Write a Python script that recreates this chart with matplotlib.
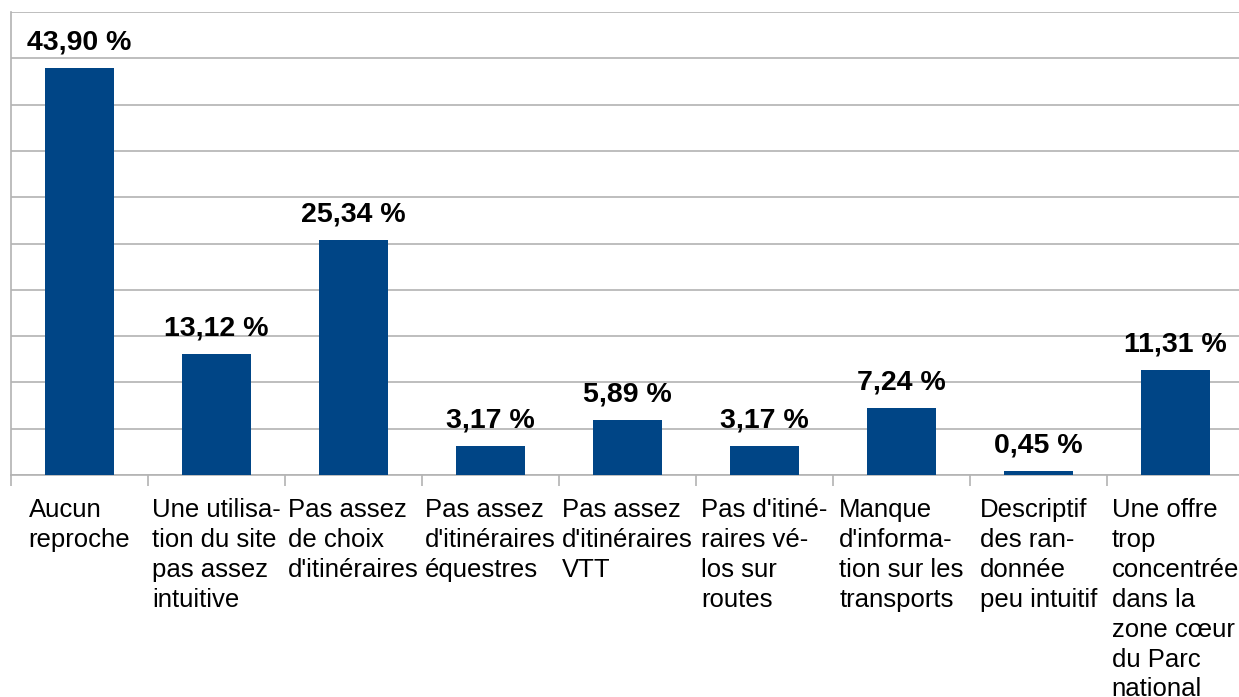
import matplotlib.pyplot as plt
import numpy as np

plt.rcParams['font.family'] = ['Liberation Sans', 'DejaVu Sans']

categories = [
    "Aucun\nreproche",
    "Une utilisa-\ntion du site\npas assez\nintuitive",
    "Pas assez\nde choix\nd'itinéraires",
    "Pas assez\nd'itinéraires\néquestres",
    "Pas assez\nd'itinéraires\nVTT",
    "Pas d'itiné-\nraires vé-\nlos sur\nroutes",
    "Manque\nd'informa-\ntion sur les\ntransports",
    "Descriptif\ndes ran-\ndonnée\npeu intuitif",
    "Une offre\ntrop\nconcentrée\ndans la\nzone cœur\ndu Parc\nnational",
]
values = [43.90, 13.12, 25.34, 3.17, 5.89, 3.17, 7.24, 0.45, 11.31]

W, H = 1239, 697
fig = plt.figure(figsize=(W / 100, H / 100), dpi=100)
ax = fig.add_axes([11 / W, 222 / H, 1233 / W, 463 / H])

x = np.arange(len(values))
bars = ax.bar(x, values, width=0.5, color='#004586', zorder=3)

for xi, v in zip(x, values):
    ax.annotate(f"{v:.2f} %".replace('.', ','), (xi, v), xytext=(0, 9),
                textcoords='offset points', ha='center', va='bottom',
                fontsize=20.5, fontweight='bold', color='black')

ax.set_xlim(-0.5, len(values) - 0.5)
ax.set_ylim(0, 50)
ax.set_yticks(np.arange(0, 51, 5))
ax.tick_params(axis='y', length=0, labelleft=False)
ax.grid(axis='y', color='#b3b3b3', linewidth=1.2, zorder=0)

# ticks between categories, labels centred below each bar
ax.set_xticks(np.arange(len(values) + 1) - 0.5)
ax.set_xticklabels([])
ax.tick_params(axis='x', length=8, width=1.2, color='#b3b3b3')
for xi, lab in zip(x, categories):
    ax.text(xi, -0.05, lab, transform=ax.get_xaxis_transform(),
            ha='center', va='top', multialignment='left',
            fontsize=18.5, linespacing=1.31, clip_on=False)

for side in ['top', 'right']:
    ax.spines[side].set_visible(False)
for side in ['left', 'bottom']:
    ax.spines[side].set_color('#b3b3b3')
    ax.spines[side].set_linewidth(1.2)

fig.savefig('out.png', dpi=100)
